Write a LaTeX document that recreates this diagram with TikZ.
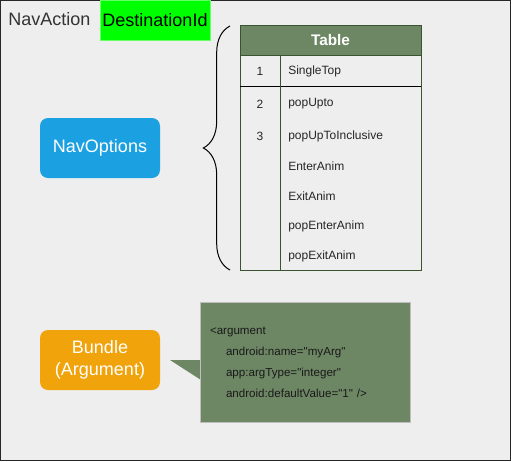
\documentclass[tikz,border=0pt]{standalone}
\usepackage{fontspec}
\setmainfont{Liberation Sans}[Ligatures = TeXOff]
\usetikzlibrary{positioning}
\usetikzlibrary{decorations.pathreplacing}
\tikzset{pill/.style = {rounded corners = 6pt, minimum width = 90pt, minimum height = 45pt,
                        inner sep = 0, text = white, align = center,
                        font = \fontsize{13.5}{16}\selectfont}}
\tikzset{cell/.style = {inner sep = 0, text = black!85, font = \fontsize{9}{11}\selectfont}}
\definecolor{mgreen}{HTML}{6D8764}
\definecolor{mgreenline}{HTML}{3A5431}
\definecolor{mblue}{HTML}{1BA1E2}
\definecolor{morange}{HTML}{F0A30A}
\definecolor{mlime}{HTML}{00FF00}
\definecolor{mpaper}{HTML}{EEEEEE}

\begin{document}
\begin{tikzpicture}[x = 0.75pt, y = -0.75pt]
    \useasboundingbox (0, 0) rectangle (511, 461);
    \draw [black!85, fill = mpaper] (0.5, 0.5) rectangle (510.5, 460.5);

    \node [anchor = west, inner sep = 0, text = black!80, font = \fontsize{13.5}{16}\selectfont] (action) at (8, 19) {NavAction};
    \node [fill = mlime, draw = green!60!white, minimum width = 82.5pt, minimum height = 30pt,
           inner sep = 0, font = \fontsize{13.5}{16}\selectfont] (dest) at (155, 20) {DestinationId};

    \node [pill, fill = mblue] (options) at (100, 148) {NavOptions};
    \node [pill, fill = morange] (bundle) at (100, 360) {Bundle\\(Argument)};

    % options table
    \draw [mgreenline] (240, 25) rectangle (421, 270);
    \node [fill = mgreen, draw = mgreenline, minimum width = 135.75pt, minimum height = 22.5pt,
           text = white, font = \bfseries\fontsize{11.5}{14}\selectfont] (head) at (330.5, 40) {Table};
    \draw [black] (240, 86) -- (421, 86);
    \draw [mgreenline] (280, 55) -- (280, 270);
    \foreach \y/\n/\t [count = \i] in {71/1/SingleTop, 104/2/popUpto, 136/3/popUpToInclusive,
                                       166//EnterAnim, 196//ExitAnim, 226//popEnterAnim, 256//popExitAnim} {
        \node [cell] (num\i) at (260, \y) {\n};
        \node [cell, anchor = west] (opt\i) at (288, \y) {\t};
    }

    \draw [decorate, decoration = {brace, amplitude = 20pt}, line width = 0.75pt]
        (230, 270) -- (230, 26);

    % argument callout
    \fill [mgreen] (201, 360) -- (170, 360) -- (201, 380) -- cycle;
    \node [fill = mgreen, draw = black!25, minimum width = 157.5pt, minimum height = 90pt,
           text width = 142.5pt, inner xsep = 7.5pt, align = left, text = black!90,
           font = \fontsize{8.7}{15.75}\selectfont] (code) at (305, 362.5)
        {<argument\\
         \hspace*{12pt}android:name="myArg"\\
         \hspace*{12pt}app:argType="integer"\\
         \hspace*{12pt}android:defaultValue="1" />};
\end{tikzpicture}
\end{document}
